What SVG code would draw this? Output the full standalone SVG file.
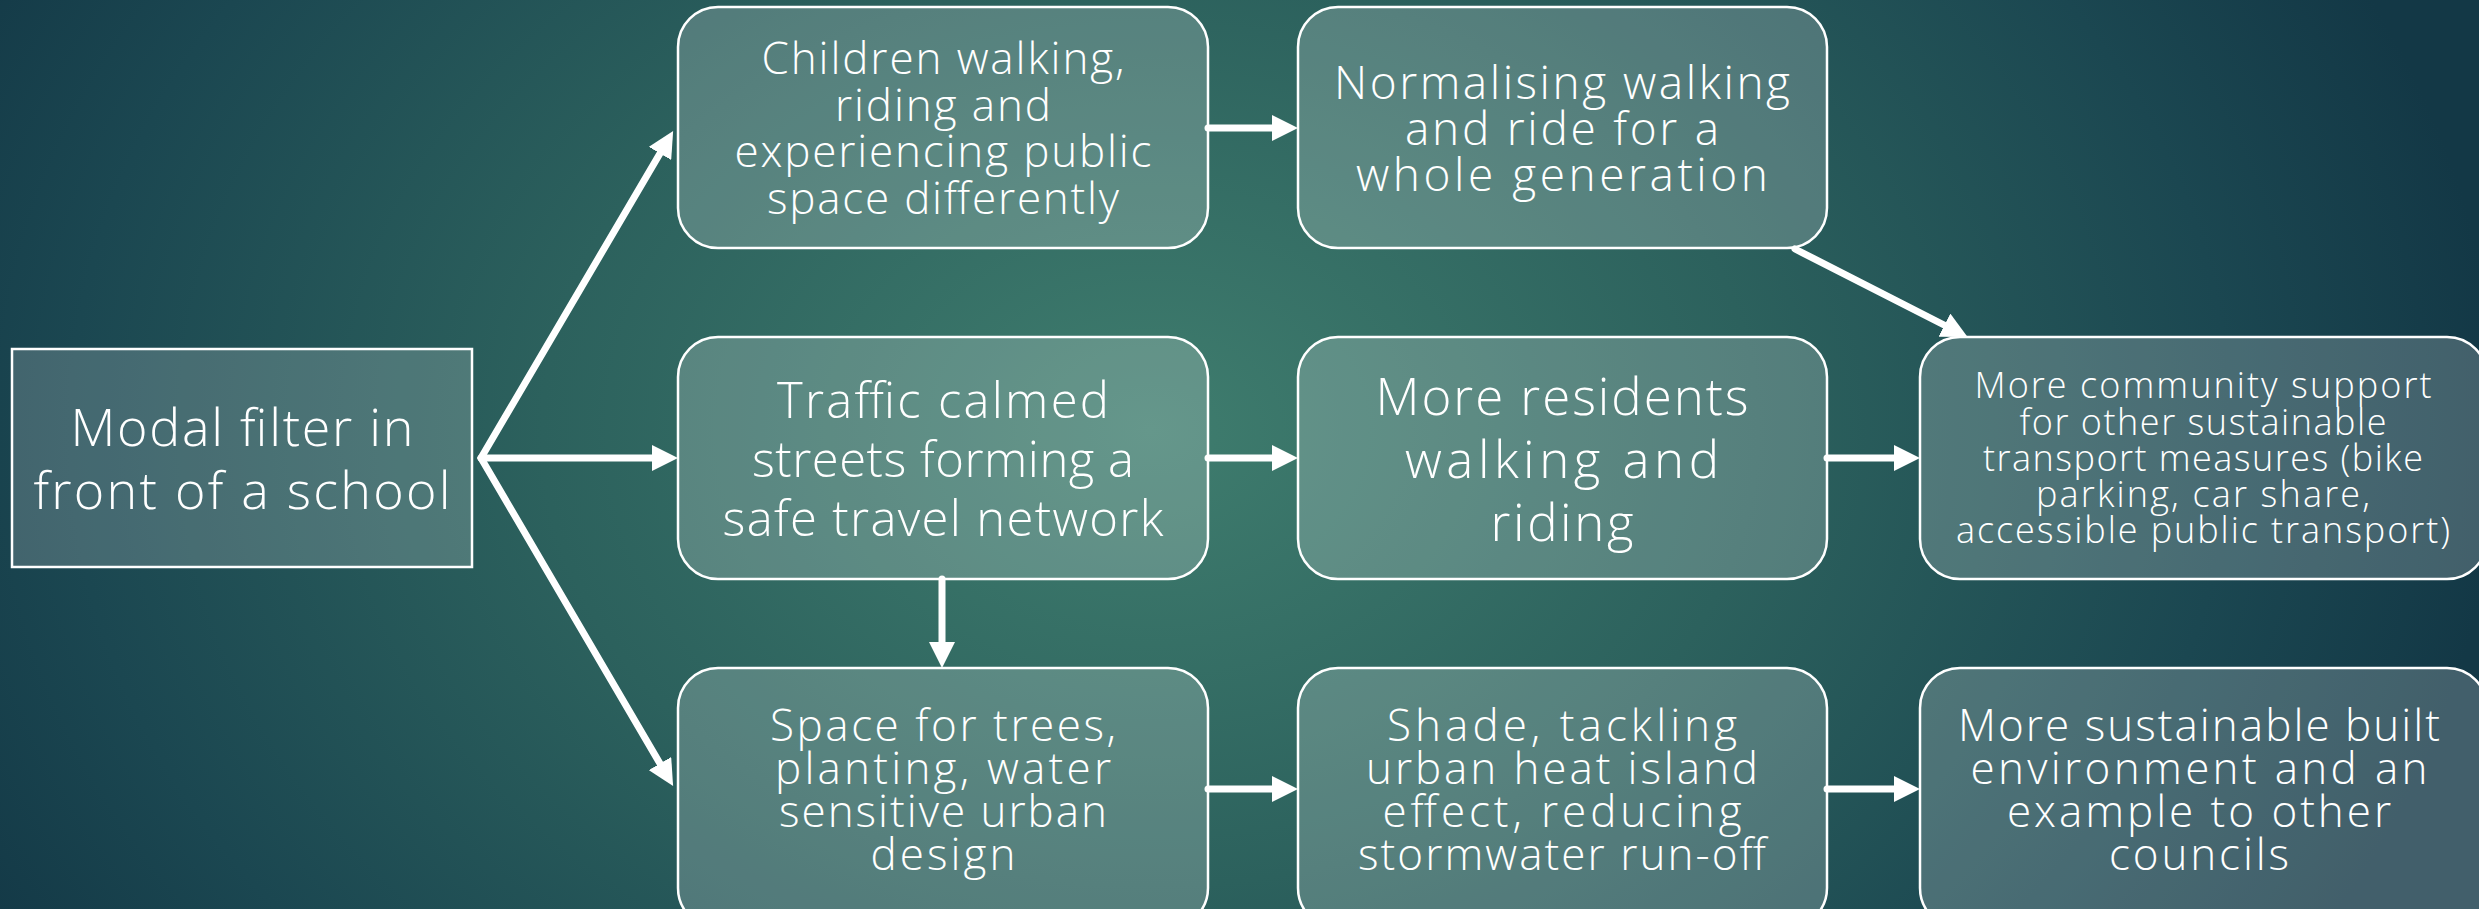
<svg xmlns="http://www.w3.org/2000/svg" width="2479" height="909" viewBox="0 0 2479 909">
<defs>
<radialGradient id="bg" gradientUnits="userSpaceOnUse" cx="1150" cy="430" r="1350" gradientTransform="translate(1150 430) scale(1 0.75) translate(-1150 -430)">
<stop offset="0" stop-color="#3f7d6e"/>
<stop offset="0.45" stop-color="#2c615d"/>
<stop offset="0.8" stop-color="#1b4751"/>
<stop offset="1" stop-color="#133846"/>
</radialGradient>
<marker id="ah" markerUnits="userSpaceOnUse" markerWidth="26" markerHeight="26" viewBox="0 0 26 26" refX="4" refY="13" orient="auto-start-reverse">
<path d="M0,0 L26,13 L0,26 Z" fill="#ffffff"/>
</marker>
</defs>
<style>
.box{fill:#ffffff;fill-opacity:0.2;stroke:#ffffff;stroke-width:2.5}
.src{fill:#ffffff;fill-opacity:0.18;stroke:#ffffff;stroke-width:2.5}
.t{fill:#ffffff;font-family:"Open Sans","Liberation Sans",sans-serif;font-weight:300;text-anchor:middle}
.c{fill:none;stroke:#ffffff;stroke-width:7;stroke-linecap:round;stroke-linejoin:miter;stroke-miterlimit:10}
</style>
<rect x="0" y="0" width="2479" height="909" fill="url(#bg)"/>

<g id="connectors">
<path class="c" d="M662,150 L481,458 L662,767" marker-start="url(#ah)" marker-end="url(#ah)"/>
<path class="c" d="M481,458 L656,458" marker-end="url(#ah)"/>
<path class="c" d="M1208,128 L1276,128" marker-end="url(#ah)"/>
<path class="c" d="M1208,458 L1276,458" marker-end="url(#ah)"/>
<path class="c" d="M1208,789 L1276,789" marker-end="url(#ah)"/>
<path class="c" d="M942,579 L942,646" marker-end="url(#ah)"/>
<path class="c" d="M1827,458 L1898,458" marker-end="url(#ah)"/>
<path class="c" d="M1827,789 L1898,789" marker-end="url(#ah)"/>
<path class="c" d="M1795,249 L1948,327" marker-end="url(#ah)"/>
</g>

<g id="n-modal">
<rect class="src" x="12" y="349" width="460" height="218"/>
<text class="t" font-size="52"><tspan x="242" y="446" textLength="343">Modal filter in</tspan><tspan x="242" y="509" textLength="417">front of a school</tspan></text>
</g>

<g id="n-children">
<rect class="box" x="678" y="7" width="530" height="241" rx="40"/>
<text class="t" font-size="44"><tspan x="943" y="74" textLength="363">Children walking,</tspan><tspan x="943" y="121" textLength="216">riding and</tspan><tspan x="943" y="167" textLength="417">experiencing public</tspan><tspan x="943" y="214" textLength="352">space differently</tspan></text>
</g>

<g id="n-normalising">
<rect class="box" x="1298" y="7" width="529" height="241" rx="40"/>
<text class="t" font-size="46"><tspan x="1562" y="99" textLength="456">Normalising walking</tspan><tspan x="1562" y="145" textLength="314">and ride for a</tspan><tspan x="1562" y="191" textLength="412">whole generation</tspan></text>
</g>

<g id="n-traffic">
<rect class="box" x="678" y="337" width="530" height="242" rx="40"/>
<text class="t" font-size="49"><tspan x="943" y="418" textLength="332">Traffic calmed</tspan><tspan x="943" y="477" textLength="382">streets forming a</tspan><tspan x="943" y="536" textLength="441">safe travel network</tspan></text>
</g>

<g id="n-residents">
<rect class="box" x="1298" y="337" width="529" height="242" rx="40"/>
<text class="t" font-size="51"><tspan x="1562" y="415" textLength="373">More residents</tspan><tspan x="1562" y="478" textLength="314">walking and</tspan><tspan x="1562" y="541" textLength="143">riding</tspan></text>
</g>

<g id="n-community">
<rect class="box" x="1920" y="337" width="567" height="242" rx="40"/>
<text class="t" font-size="36"><tspan x="2203" y="398" textLength="457">More community support</tspan><tspan x="2203" y="435" textLength="367">for other sustainable</tspan><tspan x="2203" y="471" textLength="440">transport measures (bike</tspan><tspan x="2203" y="507" textLength="334">parking, car share,</tspan><tspan x="2203" y="543" textLength="494">accessible public transport)</tspan></text>
</g>

<g id="n-space">
<rect class="box" x="678" y="668" width="530" height="260" rx="40"/>
<text class="t" font-size="44"><tspan x="943" y="741" textLength="346">Space for trees,</tspan><tspan x="943" y="784" textLength="336">planting, water</tspan><tspan x="943" y="827" textLength="328">sensitive urban</tspan><tspan x="943" y="870" textLength="145">design</tspan></text>
</g>

<g id="n-shade">
<rect class="box" x="1298" y="668" width="529" height="260" rx="40"/>
<text class="t" font-size="44"><tspan x="1562" y="741" textLength="350">Shade, tackling</tspan><tspan x="1562" y="784" textLength="392">urban heat island</tspan><tspan x="1562" y="827" textLength="359">effect, reducing</tspan><tspan x="1562" y="870" textLength="408">stormwater run-off</tspan></text>
</g>

<g id="n-sustainable">
<rect class="box" x="1920" y="668" width="567" height="260" rx="40"/>
<text class="t" font-size="44"><tspan x="2199" y="741" textLength="482">More sustainable built</tspan><tspan x="2199" y="784" textLength="457">environment and an</tspan><tspan x="2199" y="827" textLength="384">example to other</tspan><tspan x="2199" y="870" textLength="180">councils</tspan></text>
</g>
</svg>
